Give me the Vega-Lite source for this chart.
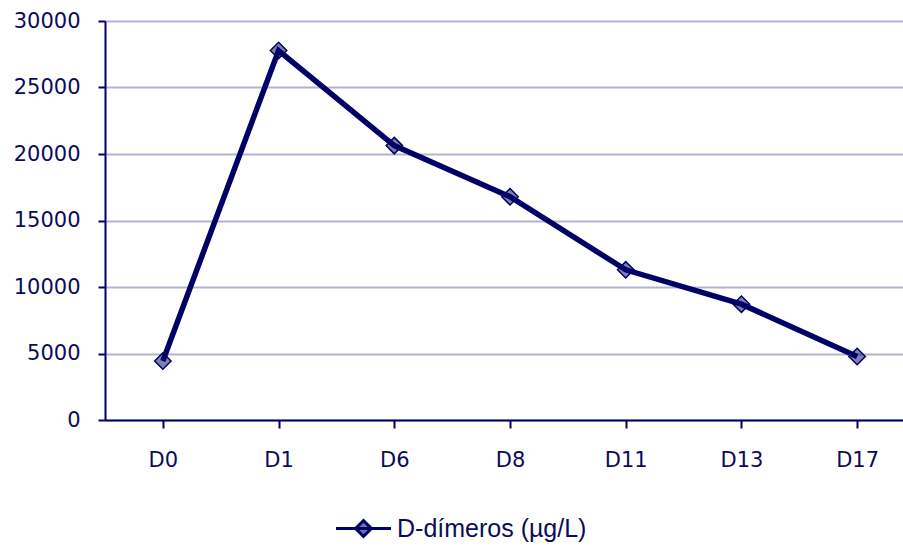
{
  "$schema": "https://vega.github.io/schema/vega-lite/v6.json",
  "autosize": {"type": "none"},
  "width": 798,
  "height": 399,
  "padding": {"left": 105, "top": 21, "right": 0, "bottom": 126},
  "background": "white",
  "config": {
    "view": {"stroke": null},
    "axis": {"labelFont": "DejaVu Sans", "labelFontSize": 21, "labelColor": "#0b0b5c", "domainColor": "#000066", "tickColor": "#000066", "domainWidth": 2, "tickWidth": 2, "gridColor": "#b3b3d1", "gridWidth": 2, "gridOpacity": 1, "title": null}
  },
  "data": {
    "values": [
      {"day": "D0", "value": 4440, "series": "D-dímeros (µg/L)"},
      {"day": "D1", "value": 27780, "series": "D-dímeros (µg/L)"},
      {"day": "D6", "value": 20630, "series": "D-dímeros (µg/L)"},
      {"day": "D8", "value": 16790, "series": "D-dímeros (µg/L)"},
      {"day": "D11", "value": 11290, "series": "D-dímeros (µg/L)"},
      {"day": "D13", "value": 8710, "series": "D-dímeros (µg/L)"},
      {"day": "D17", "value": 4770, "series": "D-dímeros (µg/L)"}
    ]
  },
  "encoding": {
    "x": {
      "field": "day", "type": "nominal", "sort": null,
      "scale": {"range": [0, 810], "paddingInner": 0, "paddingOuter": 0},
      "axis": {"labelAngle": 0, "bandPosition": 0, "tickSize": 8, "labelPadding": 21, "grid": false, "labelBaseline": "top"}
    },
    "y": {
      "field": "value", "type": "quantitative",
      "scale": {"domain": [0, 30000], "nice": false},
      "axis": {"values": [0, 5000, 10000, 15000, 20000, 25000, 30000], "format": "d", "tickSize": 7, "labelPadding": 18, "grid": true}
    }
  },
  "layer": [
    {
      "mark": {"type": "line", "color": "#000066", "strokeWidth": 5.5},
      "encoding": {
        "color": {
          "field": "series", "type": "nominal",
          "scale": {"range": ["#000066"]},
          "legend": {
            "title": null, "orient": "none", "legendX": 246, "legendY": 495,
            "symbolType": "M-2.5,0H2.5M0,-0.72L0.72,0L0,0.72L-0.72,0Z",
            "symbolSize": 484, "symbolStrokeWidth": 3, "symbolFillColor": "#7474aa", "symbolStrokeColor": "#000066",
            "labelFont": "Liberation Sans", "labelFontSize": 25, "labelColor": "#0b0b5c", "labelOffset": 21, "labelLimit": 400
          }
        }
      }
    },
    {
      "mark": {"type": "point", "shape": "diamond", "size": 270, "filled": true, "fill": "#000066", "fillOpacity": 0.5, "stroke": "#000066", "strokeWidth": 1.5, "opacity": 1}
    }
  ]
}
